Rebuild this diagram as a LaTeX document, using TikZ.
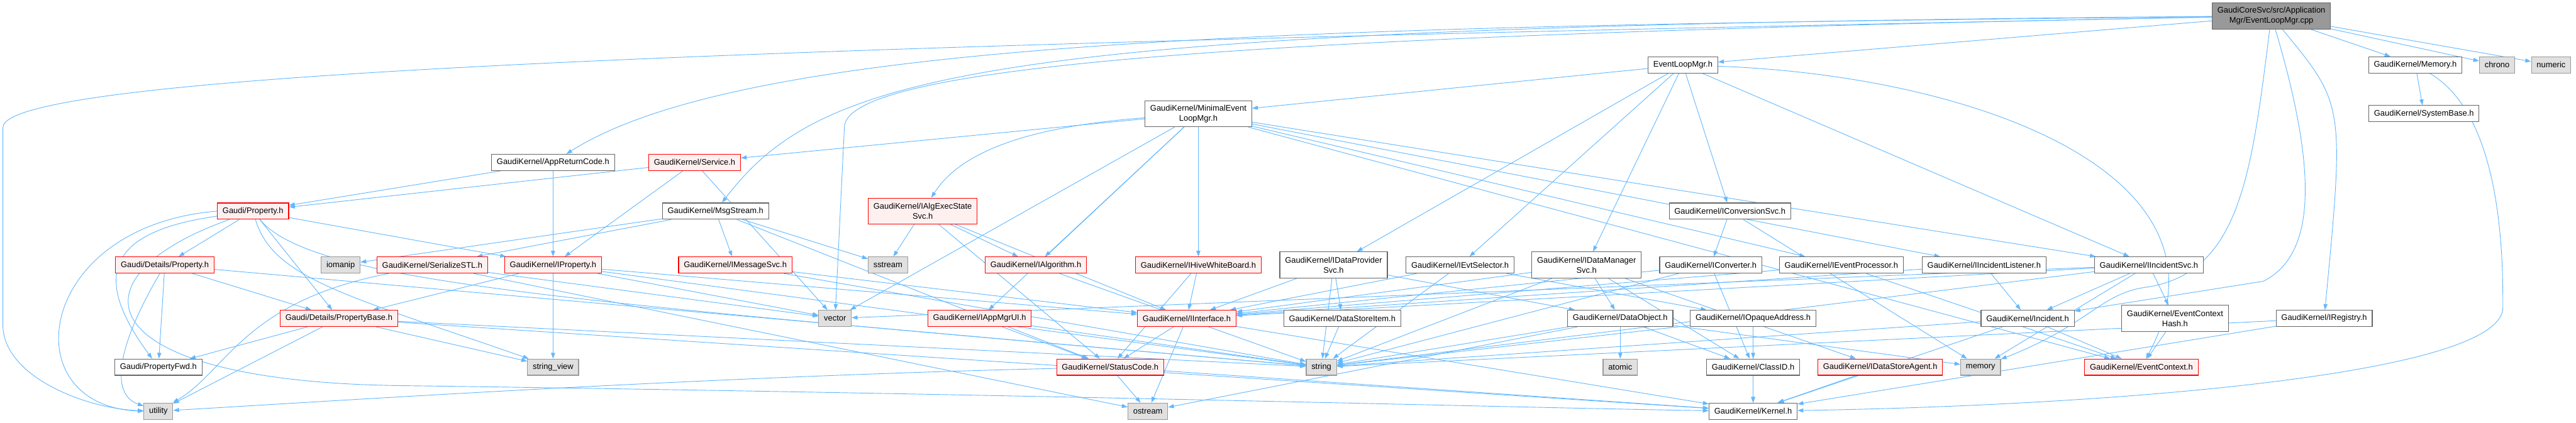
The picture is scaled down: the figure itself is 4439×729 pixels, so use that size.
\documentclass[tikz,border=0pt]{standalone}
\usepackage{fontspec}
\setmainfont{Liberation Sans}
\usetikzlibrary{arrows.meta}
\pgfdeclarelayer{bg}
\pgfsetlayers{bg,main}
\definecolor{edgeblue}{HTML}{63B8FF}
\definecolor{boxgray}{HTML}{666666}
\definecolor{sysgray}{HTML}{999999}
\definecolor{sysfill}{HTML}{E0E0E0}
\definecolor{truncred}{HTML}{FF0000}
\definecolor{truncfill}{HTML}{FFF0F0}

\begin{document}
\begin{tikzpicture}[x=1pt,y=-1pt,
		hdr/.style={draw=boxgray,fill=white,line width=1.2pt,inner xsep=9pt,inner ysep=0pt,
			minimum height=28pt,align=center,font=\fontsize{14}{17}\selectfont},
		tall/.style={minimum height=45pt},
		trunc/.style={hdr,draw=truncred,fill=truncfill},
		sys/.style={hdr,draw=sysgray,fill=sysfill},
		src/.style={hdr,fill=sysgray},
		dep/.style={draw=edgeblue,line width=1pt,-{Triangle[length=10pt,width=7pt]}}]
	\useasboundingbox (0,0) rectangle (4439,729);
	% top
	\node[src,tall] (root) at (3914,27.5) {GaudiCoreSvc/src/Application\\Mgr/EventLoopMgr.cpp};
	\node[hdr] (elm) at (2900,112) {EventLoopMgr.h};
	\node[hdr] (mem) at (4162,112) {GaudiKernel/Memory.h};
	\node[sys] (chrono) at (4303,112) {chrono};
	\node[sys] (numeric) at (4396,112) {numeric};
	\node[hdr,tall] (minimal) at (2065,196) {GaudiKernel/MinimalEvent\\LoopMgr.h};
	\node[hdr] (sysbase) at (4177,196) {GaudiKernel/SystemBase.h};
	\node[hdr] (arc) at (953,280) {GaudiKernel/AppReturnCode.h};
	\node[trunc] (service) at (1197,280) {GaudiKernel/Service.h};
	\node[trunc] (gprop) at (436,364) {Gaudi/Property.h};
	\node[hdr] (msgstream) at (1233,364) {GaudiKernel/MsgStream.h};
	\node[trunc,tall] (algexec) at (1590,364) {GaudiKernel/IAlgExecState\\Svc.h};
	\node[hdr] (iconvsvc) at (2981,364) {GaudiKernel/IConversionSvc.h};
	% middle
	\node[trunc] (dprop) at (284,457) {Gaudi/Details/Property.h};
	\node[sys] (iomanip) at (587,457) {iomanip};
	\node[trunc] (serial) at (745,457) {GaudiKernel/SerializeSTL.h};
	\node[trunc] (iprop) at (953,457) {GaudiKernel/IProperty.h};
	\node[trunc] (imsgsvc) at (1267,457) {GaudiKernel/IMessageSvc.h};
	\node[sys] (sstream) at (1530,457) {sstream};
	\node[trunc] (ialg) at (1785,457) {GaudiKernel/IAlgorithm.h};
	\node[trunc] (hive) at (2065,457) {GaudiKernel/IHiveWhiteBoard.h};
	\node[hdr,tall] (dpsvc) at (2298,457) {GaudiKernel/IDataProvider\\Svc.h};
	\node[hdr] (evtsel) at (2516,457) {GaudiKernel/IEvtSelector.h};
	\node[hdr,tall] (dmsvc) at (2734,457) {GaudiKernel/IDataManager\\Svc.h};
	\node[hdr] (iconv) at (2948,457) {GaudiKernel/IConverter.h};
	\node[hdr] (ievtproc) at (3173,457) {GaudiKernel/IEventProcessor.h};
	\node[hdr] (ilistener) at (3419,457) {GaudiKernel/IIncidentListener.h};
	\node[hdr] (iincsvc) at (3703,457) {GaudiKernel/IIncidentSvc.h};
	\node[trunc] (propbase) at (584,549) {Gaudi/Details/PropertyBase.h};
	\node[sys] (vector) at (1439,549) {vector};
	\node[trunc] (appmgrui) at (1688,549) {GaudiKernel/IAppMgrUI.h};
	\node[trunc] (iinterface) at (2045,549) {GaudiKernel/IInterface.h};
	\node[hdr] (dsitem) at (2313,549) {GaudiKernel/DataStoreItem.h};
	\node[hdr] (dataobj) at (2792,549) {GaudiKernel/DataObject.h};
	\node[hdr] (iopaque) at (3021,549) {GaudiKernel/IOpaqueAddress.h};
	\node[hdr] (incident) at (3494,549) {GaudiKernel/Incident.h};
	\node[hdr,tall] (ctxhash) at (3748,549) {GaudiKernel/EventContext\\Hash.h};
	\node[hdr] (iregistry) at (4005,549) {GaudiKernel/IRegistry.h};
	% bottom
	\node[hdr] (propfwd) at (273,633) {Gaudi/PropertyFwd.h};
	\node[sys] (strview) at (953,633) {string\_view};
	\node[trunc] (statuscode) at (1913,633) {GaudiKernel/StatusCode.h};
	\node[sys] (string) at (2277,633) {string};
	\node[sys] (atomic) at (2792,633) {atomic};
	\node[hdr] (classid) at (3021,633) {GaudiKernel/ClassID.h};
	\node[trunc] (dsagent) at (3240,633) {GaudiKernel/IDataStoreAgent.h};
	\node[sys] (memory) at (3413,633) {memory};
	\node[trunc] (evctx) at (3690,633) {GaudiKernel/EventContext.h};
	\node[sys] (utility) at (273,709) {utility};
	\node[sys] (ostream) at (1978,709) {ostream};
	\node[hdr] (kernel) at (3021,709) {GaudiKernel/Kernel.h};
	% includes
	\begin{pgfonlayer}{bg}
	\draw[dep] (root) -- (elm);
	\draw[dep] (root) -- (mem);
	\draw[dep] (root) -- (chrono);
	\draw[dep] (root) -- (numeric);
	\draw[dep] (root) .. controls (2300,45) and (1300,60) .. (arc);
	\draw[dep] (root) .. controls (1700,45) and (1420,120) .. (msgstream);
	\draw[dep] (root) .. controls (2200,60) and (1455,110) .. (1455,220) -- (vector);
	\draw[dep] (root) .. controls (1500,75) and (5,120) .. (5,220) -- (5,560) .. controls (5,650) and (150,705) .. (utility);
	\draw[dep] (root) .. controls (3995,300) and (3990,440) .. (3900,485) -- (incident);
	\draw[dep] (root) .. controls (4040,180) .. (iregistry);
	\draw[dep] (root) .. controls (3880,300) and (3860,470) .. (3700,495) .. controls (3620,505) and (3600,560) .. (memory);
	\draw[dep] (elm) -- (minimal);
	\draw[dep] (elm) -- (iconvsvc);
	\draw[dep] (elm) -- (dpsvc);
	\draw[dep] (elm) -- (evtsel);
	\draw[dep] (elm) -- (dmsvc);
	\draw[dep] (elm) -- (iincsvc);
	\draw[dep] (elm) .. controls (3400,130) and (3870,300) .. (evctx);
	\draw[dep] (mem) -- (sysbase);
	\draw[dep] (mem) .. controls (4313,200) and (4313,450) .. (4313,530) .. controls (4313,650) and (3600,700) .. (kernel);
	\draw[dep] (minimal) -- (service);
	\draw[dep] (minimal) .. controls (1750,220) and (1650,270) .. (algexec);
	\draw[dep] (minimal) -- (ialg);
	\draw[dep] (minimal) -- (appmgrui);
	\draw[dep] (minimal) -- (hive);
	\draw[dep] (minimal) -- (vector);
	\draw[dep] (minimal) -- (ievtproc);
	\draw[dep] (minimal) -- (ilistener);
	\draw[dep] (minimal) -- (iincsvc);
	\draw[dep] (minimal) -- (evctx);
	\draw[dep] (arc) -- (gprop);
	\draw[dep] (arc) -- (iprop);
	\draw[dep] (service) -- (gprop);
	\draw[dep] (service) -- (iprop);
	\draw[dep] (service) -- (vector);
	\draw[dep] (msgstream) -- (imsgsvc);
	\draw[dep] (msgstream) -- (sstream);
	\draw[dep] (msgstream) -- (iomanip);
	\draw[dep] (msgstream) -- (serial);
	\draw[dep] (msgstream) -- (statuscode);
	\draw[dep] (algexec) -- (ialg);
	\draw[dep] (algexec) -- (sstream);
	\draw[dep] (algexec) -- (iinterface);
	\draw[dep] (algexec) -- (statuscode);
	\draw[dep] (iconvsvc) -- (iconv);
	\draw[dep] (iconvsvc) -- (memory);
	\draw[dep] (gprop) -- (dprop);
	\draw[dep] (gprop) -- (propbase);
	\draw[dep] (gprop) .. controls (180,400) and (160,480) .. (propfwd);
	\draw[dep] (gprop) -- (iprop);
	\draw[dep] (gprop.west) .. controls (60,390) and (20,700) .. (utility.west);
	\draw[dep] (gprop) .. controls (470,480) and (600,510) .. (strview);
	\draw[dep] (gprop) .. controls (540,490) and (1000,520) .. (string);
	\draw[dep] (gprop) .. controls (110,480) and (150,660) .. (700,665) .. controls (1800,680) and (2700,705) .. (kernel);
	\draw[dep] (dprop) -- (propbase);
	\draw[dep] (dprop) -- (propfwd);
	\draw[dep] (dprop) .. controls (200,600) and (190,680) .. (utility);
	\draw[dep] (dprop) -- (string);
	\draw[dep] (serial) .. controls (420,520) and (390,640) .. (utility);
	\draw[dep] (serial) -- (ostream);
	\draw[dep] (serial) -- (vector);
	\draw[dep] (iprop) -- (propbase);
	\draw[dep] (iprop) -- (strview);
	\draw[dep] (iprop) -- (iinterface);
	\draw[dep] (iprop) -- (vector);
	\draw[dep] (iprop) -- (string);
	\draw[dep] (imsgsvc) -- (iinterface);
	\draw[dep] (imsgsvc) -- (string);
	\draw[dep] (ialg) -- (string);
	\draw[dep] (hive) -- (iinterface);
	\draw[dep] (hive) -- (statuscode);
	\draw[dep] (dpsvc) -- (dsitem);
	\draw[dep] (dpsvc) -- (iinterface);
	\draw[dep] (dpsvc) -- (dataobj);
	\draw[dep] (dpsvc) -- (string);
	\draw[dep] (evtsel) -- (string);
	\draw[dep] (evtsel) -- (iinterface);
	\draw[dep] (evtsel) -- (iopaque);
	\draw[dep] (dmsvc) -- (dataobj);
	\draw[dep] (dmsvc) -- (iinterface);
	\draw[dep] (dmsvc) -- (string);
	\draw[dep] (dmsvc) -- (classid);
	\draw[dep] (dmsvc) -- (dsagent);
	\draw[dep] (iconv) -- (classid);
	\draw[dep] (iconv) -- (string);
	\draw[dep] (iconv) -- (iinterface);
	\draw[dep] (ievtproc) -- (evctx);
	\draw[dep] (ievtproc) -- (iinterface);
	\draw[dep] (ilistener) -- (incident);
	\draw[dep] (ilistener) -- (iinterface);
	\draw[dep] (iincsvc) -- (incident);
	\draw[dep] (iincsvc) -- (ctxhash);
	\draw[dep] (iincsvc) -- (iinterface);
	\draw[dep] (iincsvc) -- (string);
	\draw[dep] (iincsvc) -- (vector);
	\draw[dep] (iincsvc) -- (memory);
	\draw[dep] (propbase) -- (propfwd);
	\draw[dep] (propbase) -- (utility);
	\draw[dep] (propbase) -- (strview);
	\draw[dep] (propbase) -- (string);
	\draw[dep] (propbase) -- (kernel);
	\draw[dep] (appmgrui) -- (statuscode);
	\draw[dep] (appmgrui) -- (string);
	\draw[dep] (iinterface) -- (statuscode);
	\draw[dep] (iinterface) -- (ostream);
	\draw[dep] (iinterface) -- (kernel);
	\draw[dep] (dsitem) -- (string);
	\draw[dep] (dataobj) -- (string);
	\draw[dep] (dataobj) -- (atomic);
	\draw[dep] (dataobj) -- (classid);
	\draw[dep] (dataobj) -- (memory);
	\draw[dep] (dataobj) -- (ostream);
	\draw[dep] (iopaque) -- (classid);
	\draw[dep] (iopaque) -- (kernel);
	\draw[dep] (iopaque) -- (string);
	\draw[dep] (incident) -- (evctx);
	\draw[dep] (incident) -- (string);
	\draw[dep] (incident) -- (kernel);
	\draw[dep] (ctxhash) -- (evctx);
	\draw[dep] (iregistry) -- (kernel);
	\draw[dep] (iregistry) -- (string);
	\draw[dep] (statuscode) -- (ostream);
	\draw[dep] (statuscode) -- (kernel);
	\draw[dep] (statuscode) .. controls (1200,650) and (600,690) .. (utility);
	\draw[dep] (classid) -- (kernel);
	\draw[dep] (dsagent) -- (kernel);
	\end{pgfonlayer}
\end{tikzpicture}
\end{document}
